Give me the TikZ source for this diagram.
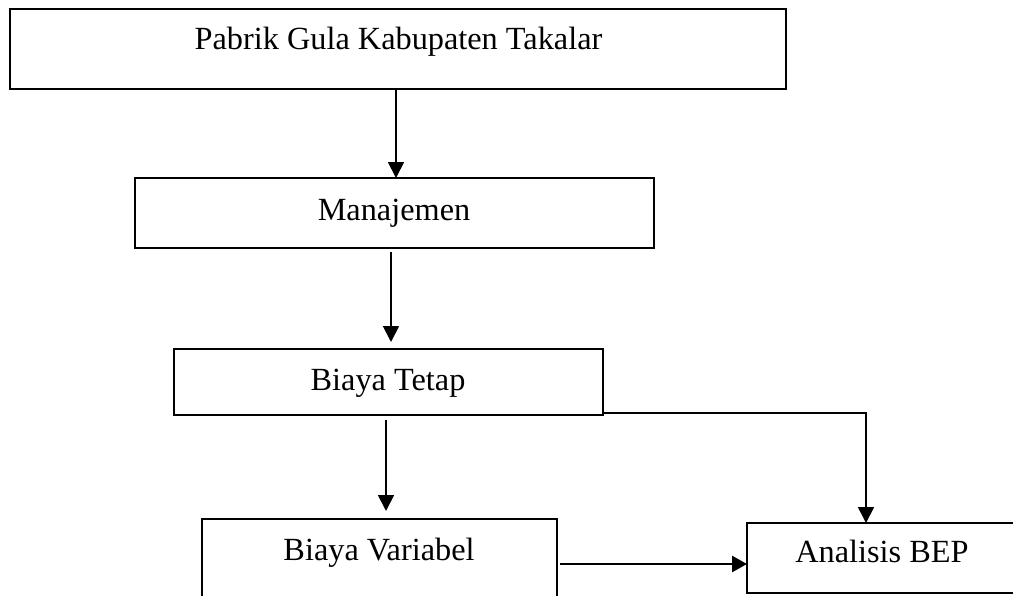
\documentclass[tikz,border=0pt]{standalone}
\usepackage{fontspec}
\setmainfont{Liberation Serif}
\usetikzlibrary{arrows.meta}
\begin{document}
\begin{tikzpicture}[x=1pt,y=-1pt,
  box/.style={draw=black,line width=1.8pt,inner sep=0pt,fill=none},
  lbl/.style={anchor=base,inner sep=0pt,font=\fontsize{32.3}{38}\selectfont},
  conn/.style={line width=1.8pt,-{Triangle[width=16pt,length=16pt]}},
  thickconn/.style={line width=2.8pt,-{Triangle[width=16pt,length=15pt]}}]
\useasboundingbox (0,0) rectangle (1013,595);
\fill[white] (0,0) rectangle (1013,595);
\begin{scope}
\clip (0,0) rectangle (1013,595);
\node[box,minimum width=776pt,minimum height=80pt] (b1) at (398,49) {};
\node[box,minimum width=519pt,minimum height=70pt] (b2) at (394.5,213) {};
\node[box,minimum width=429pt,minimum height=66pt] (b3) at (388.5,382) {};
\node[box,minimum width=355pt,minimum height=130pt] (b4) at (379.5,584) {};
\node[box,minimum width=300pt,minimum height=70pt] (b5) at (897,558) {};
\end{scope}
\node[lbl] (t1) at (398.5,49) {Pabrik Gula Kabupaten Takalar};
\node[lbl] (t2) at (394,220) {Manajemen};
\node[lbl] (t3) at (388,390) {Biaya Tetap};
\node[lbl] (t4) at (379,560) {Biaya Variabel};
\node[lbl] (t5) at (882,562) {Analisis BEP};
\coordinate (a1s) at (396,89);
\coordinate (a1e) at (396,178);
\coordinate (a2s) at (391,252);
\coordinate (a2e) at (391,342);
\coordinate (a3s) at (386,420);
\coordinate (a3e) at (386,511);
\coordinate (a4s) at (603,413);
\coordinate (a4m) at (866,413);
\coordinate (a4e) at (866,523);
\coordinate (a5s) at (560,564);
\coordinate (a5e) at (747,564);
\draw[conn] (a1s) -- (a1e);
\draw[conn] (a2s) -- (a2e);
\draw[conn] (a3s) -- (a3e);
\draw[conn] (a4s) -- (a4m) -- (a4e);
\draw[thickconn] (a5s) -- (a5e);
\end{tikzpicture}
\end{document}
